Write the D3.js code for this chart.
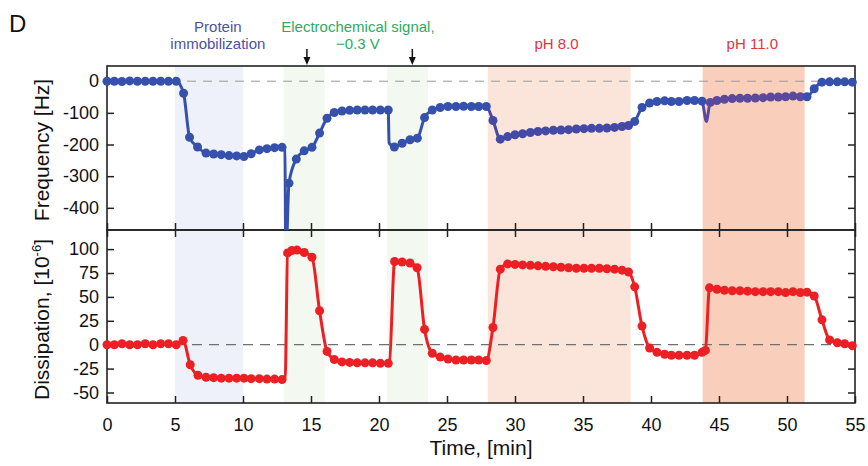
<!DOCTYPE html>
<html>
<head>
<meta charset="utf-8">
<script src="https://cdnjs.cloudflare.com/ajax/libs/d3/7.8.5/d3.min.js"></script>
<style>
  body { margin: 0; background: #fff; }
  svg { font-family: "Liberation Sans", Arial, sans-serif; }
</style>
</head>
<body>
<div id="chart"></div>
<script>
// DATA
// frequency trace [min], [Hz]
const freqTime = [0, 0.54, 1.1, 1.67, 2.24, 2.81, 3.38, 3.95, 4.52, 5.09, 5.63, 6.07, 6.66, 7.28, 7.84, 8.4, 8.97, 9.53, 10.07, 10.6,
  11.2, 11.76, 12.32, 12.87, 13.38, 13.92, 14.5, 15.07, 15.63, 16.18, 16.71, 17.28, 17.84, 18.4, 18.97, 19.53, 20.1, 20.68,
  21.13, 21.7, 22.28, 22.82, 23.35, 23.92, 24.5, 25.07, 25.66, 26.22, 26.79, 27.33, 27.89, 28.38, 28.92, 29.46, 30.0, 30.56,
  31.13, 31.69, 32.25, 32.82, 33.38, 33.94, 34.51, 35.07, 35.63, 36.2, 36.76, 37.32, 37.87, 38.35, 38.8, 39.34, 39.9, 40.44,
  41.0, 41.5, 42.06, 42.65, 43.2, 43.75, 44.36, 44.85, 45.4, 45.97, 46.54, 47.1, 47.67, 48.24, 48.8, 49.36, 49.9, 50.44,
  50.98, 51.47, 52.0, 52.57, 53.13, 53.7, 54.24, 54.8];
const freqValue = [0, 0, -1, 1, 0, 0, 0, 0, 0, 0, -38, -177, -208, -227, -230, -232, -235, -236, -238, -229,
  -217, -213, -210, -209, -322, -246, -220, -209, -164, -117, -99, -94, -92, -91, -91, -91, -91, -91,
  -208, -196, -185, -180, -115, -91, -83, -80, -80, -79, -80, -80, -80, -124, -183, -175, -169, -166,
  -162, -159, -157, -155, -154, -153, -151, -150, -149, -149, -148, -146, -143, -140, -127, -83, -69, -64,
  -62, -64, -64, -61, -61, -63, -67, -61, -57, -55, -54, -54, -53, -52, -50, -50, -49, -47,
  -49, -49, -24, -3, -2, -2, -2, -3];
// fast transients (line only, no marker)
const freqSpikeTime = [13.08, 13.15, 20.74, 44.07];
const freqSpikeValue = [-212, -560, -195, -127];

// dissipation trace [min], [1e-6]
const dissTime = [0, 0.54, 1.1, 1.67, 2.24, 2.81, 3.38, 3.95, 4.52, 5.09, 5.59, 6.12, 6.69, 7.28, 7.84, 8.4, 8.97, 9.53, 10.07, 10.6,
  11.2, 11.76, 12.32, 12.87, 13.28, 13.6, 13.97, 14.5, 15.07, 15.63, 16.18, 16.71, 17.28, 17.84, 18.4, 18.97, 19.53, 20.1, 20.68,
  21.15, 21.7, 22.28, 22.8, 23.35, 23.92, 24.5, 25.07, 25.66, 26.22, 26.79, 27.33, 27.89, 28.38, 28.92, 29.46, 30.0, 30.56,
  31.13, 31.69, 32.25, 32.82, 33.38, 33.94, 34.51, 35.07, 35.63, 36.2, 36.76, 37.32, 37.87, 38.35, 38.8, 39.34, 39.9, 40.44,
  41.0, 41.5, 42.06, 42.65, 43.2, 43.75, 44.0, 44.3, 44.85, 45.4, 45.97, 46.54, 47.1, 47.67, 48.24, 48.8, 49.36, 49.9, 50.44,
  50.98, 51.47, 52.0, 52.57, 53.13, 53.7, 54.24, 54.8];
const dissValue = [0, 0, 1, 0, 0, 1, 0, 1, 1, 0, 4.5, -21, -32, -34, -34.5, -35, -35, -35, -35, -35.5,
  -35.5, -36, -36, -36.5, 96, 98.5, 99, 96.5, 91.5, 35.5, -7, -15.5, -18, -18.5, -19, -19, -19, -19.5, -19.5,
  87, 86.5, 85.5, 80.5, 16, -9, -13, -15, -16, -16, -16, -16, -16.5, 18, 79, 84.5, 84, 83.5,
  83, 82.5, 82, 81.5, 81, 80.5, 80, 80, 80, 80, 79.5, 79, 78, 76, 60.5, 19.5, -3.5, -8,
  -10, -11, -11, -11, -11, -8, -6, 59.5, 58, 57, 56.5, 56.5, 56, 55.5, 55.5, 55.5, 55.5, 54.5, 55.5,
  54.5, 55, 51, 26, 5, 2, 1, -1];
const dissSpikeTime = [13.1, 20.76];
const dissSpikeValue = [-36, -19];

// shaded phases [min]
const bandStart = [5, 13, 20.6, 28, 43.8];
const bandEnd = [10, 16, 23.6, 38.5, 51.3];
const bandKind = ['protein', 'echem', 'echem', 'ph8', 'ph11'];

// annotations
const labelLines = [['Protein', 'immobilization'], ['Electrochemical signal,', '\u22120.3 V'], ['pH 8.0'], ['pH 11.0']];
const labelTime = [8.15, 18.45, 33.05, 47.45];
const labelKind = ['protein', 'echemText', 'phText', 'phText'];
const arrowTime = [14.7, 22.45];

const timeTicks = [0, 5, 10, 15, 20, 25, 30, 35, 40, 45, 50, 55];
const freqTicks = [0, -100, -200, -300, -400];
const dissTicks = [100, 75, 50, 25, 0, -25, -50];

// STYLES
const bandColor = { protein: '#eef1f9', echem: '#f3f8f0', ph8: '#fbe4da', ph11: '#f9cfbc' };
const textColor = { protein: '#4b52a6', echemText: '#2eaa60', phText: '#e5323c' };
const blue = '#3651ac', bluePh8 = '#4549a6', bluePh11 = '#5b4a9c', red = '#ec2024';

// LAYOUT
const width = 868, height = 466;
const left = 107, right = 855;
const topY0 = 66, topY1 = 230, botY0 = 230, botY1 = 403;

const svg = d3.select('#chart').append('svg')
  .attr('width', width)
  .attr('height', height);

// SCALES
const x = d3.scaleLinear().domain([0, 55]).range([left, right]);
const yF = d3.scaleLinear().domain([-470, 48]).range([topY1, topY0]);
const yD = d3.scaleLinear().domain([-61, 120]).range([botY1, botY0]);

// BANDS
svg.append('g').selectAll('rect')
  .data(bandStart)
  .enter()
  .append('rect')
  .attr('x', (d) => x(d))
  .attr('width', (d, i) => x(bandEnd[i]) - x(d))
  .attr('y', topY0)
  .attr('height', botY1 - topY0)
  .style('fill', (d, i) => bandColor[bandKind[i]]);

// zero lines
svg.append('line')
  .attr('x1', left).attr('x2', right)
  .attr('y1', yF(0)).attr('y2', yF(0))
  .style('stroke', '#9a9a9a').style('stroke-width', 1)
  .style('stroke-dasharray', '9,7');
svg.append('line')
  .attr('x1', left).attr('x2', right)
  .attr('y1', yD(0)).attr('y2', yD(0))
  .style('stroke', '#6f6f6f').style('stroke-width', 1.3)
  .style('stroke-dasharray', '10,7');

// AXES
function styleAxis(g, showLabels) {
  g.select('.domain').remove();
  g.selectAll('.tick line').style('stroke', '#222').style('stroke-width', 1.5);
  g.selectAll('.tick text')
    .style('font-size', '18px')
    .style('fill', '#111')
    .style('display', showLabels ? null : 'none');
}
const numFmt = (d) => String(d);

svg.append('g').attr('transform', `translate(${left},0)`)
  .call(d3.axisLeft(yF).tickValues(freqTicks).tickSize(-7).tickPadding(8).tickFormat(numFmt))
  .call((g) => styleAxis(g, true));
svg.append('g').attr('transform', `translate(${right},0)`)
  .call(d3.axisRight(yF).tickValues(freqTicks).tickSize(-7))
  .call((g) => styleAxis(g, false));
svg.append('g').attr('transform', `translate(0,${topY1})`)
  .call(d3.axisBottom(x).tickValues(timeTicks).tickSize(-7))
  .call((g) => styleAxis(g, false));

svg.append('g').attr('transform', `translate(${left},0)`)
  .call(d3.axisLeft(yD).tickValues(dissTicks).tickSize(-7).tickPadding(8).tickFormat(numFmt))
  .call((g) => styleAxis(g, true));
svg.append('g').attr('transform', `translate(${right},0)`)
  .call(d3.axisRight(yD).tickValues(dissTicks).tickSize(-7))
  .call((g) => styleAxis(g, false));
svg.append('g').attr('transform', `translate(0,${botY0})`)
  .call(d3.axisTop(x).tickValues(timeTicks).tickSize(-7))
  .call((g) => styleAxis(g, false));
svg.append('g').attr('transform', `translate(0,${botY1})`)
  .call(d3.axisBottom(x).tickValues(timeTicks).tickSize(-7).tickPadding(15))
  .call((g) => styleAxis(g, true));

// frames
[[topY0, topY1], [botY0, botY1]].forEach(([a, b]) => {
  svg.append('rect')
    .attr('x', left).attr('y', a)
    .attr('width', right - left).attr('height', b - a)
    .style('fill', 'none').style('stroke', '#222').style('stroke-width', 1.6);
});

// clip paths
const defs = svg.append('defs');
defs.append('clipPath').attr('id', 'clipTop').append('rect')
  .attr('x', left - 8).attr('y', topY0).attr('width', right - left + 16).attr('height', topY1 - topY0);
defs.append('clipPath').attr('id', 'clipBot').append('rect')
  .attr('x', left - 8).attr('y', botY0).attr('width', right - left + 16).attr('height', botY1 - botY0);

// frequency colour shifts inside the pH phases
function freqColor(t) {
  if (t >= bandStart[4] && t <= bandEnd[4]) return bluePh11;
  if (t >= bandStart[3] && t <= bandEnd[3]) return bluePh8;
  return blue;
}
const grad = defs.append('linearGradient').attr('id', 'freqGrad')
  .attr('gradientUnits', 'userSpaceOnUse')
  .attr('x1', left).attr('x2', right).attr('y1', 0).attr('y2', 0);
const stopTimes = [0, bandStart[3], bandStart[3], bandEnd[3], bandEnd[3], bandStart[4], bandStart[4], bandEnd[4], bandEnd[4], 55];
const stopCols = [blue, blue, bluePh8, bluePh8, blue, blue, bluePh11, bluePh11, blue, blue];
stopTimes.forEach((t, i) => {
  grad.append('stop').attr('offset', t / 55).attr('stop-color', stopCols[i]);
});

// LINES + DOTS
function pairs(ts, vs) { return ts.map((t, i) => [t, vs[i]]); }
const freqPts = pairs(freqTime, freqValue);
const freqLinePts = freqPts.concat(pairs(freqSpikeTime, freqSpikeValue)).sort((a, b) => a[0] - b[0]);
const dissPts = pairs(dissTime, dissValue);
const dissLinePts = dissPts.concat(pairs(dissSpikeTime, dissSpikeValue)).sort((a, b) => a[0] - b[0]);

const topG = svg.append('g').attr('clip-path', 'url(#clipTop)');
topG.append('path')
  .datum(freqLinePts)
  .attr('d', d3.line().x((d) => x(d[0])).y((d) => yF(d[1])).curve(d3.curveMonotoneX))
  .style('fill', 'none')
  .style('stroke', 'url(#freqGrad)')
  .style('stroke-width', 3)
  .style('stroke-linejoin', 'round');
topG.selectAll('circle')
  .data(freqPts)
  .enter()
  .append('circle')
  .attr('cx', (d) => x(d[0]))
  .attr('cy', (d) => yF(d[1]))
  .attr('r', 4.5)
  .style('fill', (d) => freqColor(d[0]));

const botG = svg.append('g').attr('clip-path', 'url(#clipBot)');
botG.append('path')
  .datum(dissLinePts)
  .attr('d', d3.line().x((d) => x(d[0])).y((d) => yD(d[1])).curve(d3.curveMonotoneX))
  .style('fill', 'none')
  .style('stroke', red)
  .style('stroke-width', 3)
  .style('stroke-linejoin', 'round');
botG.selectAll('circle')
  .data(dissPts)
  .enter()
  .append('circle')
  .attr('cx', (d) => x(d[0]))
  .attr('cy', (d) => yD(d[1]))
  .attr('r', 4.5)
  .style('fill', red);

// ANNOTATIONS
labelLines.forEach((lines, i) => {
  const t = svg.append('text')
    .attr('x', x(labelTime[i]))
    .attr('y', lines.length === 2 ? 31.5 : 49)
    .attr('text-anchor', 'middle')
    .style('font-size', '15px')
    .style('fill', textColor[labelKind[i]]);
  lines.forEach((s, j) => {
    t.append('tspan')
      .attr('x', x(labelTime[i]))
      .attr('dy', j === 0 ? 0 : 17.5)
      .text(s);
  });
});

arrowTime.forEach((a) => {
  const ax = x(a);
  svg.append('line')
    .attr('x1', ax).attr('x2', ax).attr('y1', 49).attr('y2', 59)
    .style('stroke', '#111').style('stroke-width', 1.5);
  svg.append('path')
    .attr('d', `M${ax - 3.5},57 L${ax + 3.5},57 L${ax},65 Z`)
    .style('fill', '#111');
});

// TITLES
svg.append('text')
  .attr('x', 9).attr('y', 32)
  .style('font-size', '24px')
  .style('fill', '#111')
  .text('D');

svg.append('text')
  .attr('transform', `translate(49,${(topY0 + topY1) / 2 + 2}) rotate(-90)`)
  .attr('text-anchor', 'middle')
  .style('font-size', '21px')
  .style('fill', '#111')
  .text('Frequency [Hz]');

const dTitle = svg.append('text')
  .attr('transform', `translate(49,${(botY0 + botY1) / 2 + 3}) rotate(-90)`)
  .attr('text-anchor', 'middle')
  .style('font-size', '21px')
  .style('fill', '#111');
dTitle.append('tspan').text('Dissipation, [10');
dTitle.append('tspan').attr('dy', -8).style('font-size', '13px').text('-6');
dTitle.append('tspan').attr('dy', 8).text(']');

svg.append('text')
  .attr('x', (left + right) / 2).attr('y', 455)
  .attr('text-anchor', 'middle')
  .style('font-size', '21px')
  .style('fill', '#111')
  .text('Time, [min]');
</script>
</body>
</html>
